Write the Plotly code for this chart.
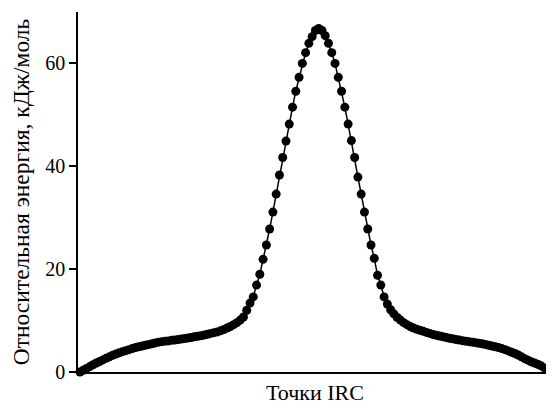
import plotly.graph_objects as go

irc_point = list(range(145))

energy = [
    0.0, 0.35, 0.7, 1.05, 1.4, 1.75, 2.05, 2.35, 2.65, 2.95,
    3.25, 3.5, 3.75, 3.95, 4.15, 4.35, 4.55, 4.75, 4.9, 5.05,
    5.2, 5.35, 5.5, 5.65, 5.8, 5.9, 6.0, 6.05, 6.15, 6.2,
    6.3, 6.4, 6.5, 6.6, 6.7, 6.85, 6.95, 7.05, 7.2, 7.35,
    7.5, 7.65, 7.8, 8.0, 8.25, 8.55, 8.85, 9.2, 9.6, 10.1,
    10.7, 12.0, 13.4, 14.6, 16.9, 19.0, 21.9, 24.7, 27.8, 31.1,
    34.6, 38.3, 41.7, 44.9, 48.2, 51.5, 54.6, 57.3, 60.0, 62.1,
    63.9, 65.2, 66.4, 66.8, 66.4, 65.4, 63.9, 62.1, 60.0, 57.3,
    54.6, 51.5, 48.2, 45.0, 41.7, 37.9, 34.6, 31.1, 27.8, 24.7,
    22.1, 18.8, 16.9, 14.6, 13.2, 12.1, 11.3, 10.6, 10.1, 9.6,
    9.2, 8.85, 8.55, 8.3, 8.1, 7.9, 7.7, 7.5, 7.3, 7.15,
    7.0, 6.85, 6.7, 6.55, 6.45, 6.3, 6.2, 6.1, 6.0, 5.9,
    5.8, 5.7, 5.6, 5.5, 5.35, 5.2, 5.05, 4.9, 4.75, 4.55,
    4.35, 4.1, 3.85, 3.6, 3.3, 2.95, 2.6, 2.3, 2.0, 1.75,
    1.5, 1.2, 0.8, 0.45, 0.05,
]

y_ticks = [0, 20, 40, 60]
x_title = "Точки IRC"
y_title = "Относительная энергия, кДж/моль"

font_family = "Liberation Serif, Times New Roman, serif"

fig = go.Figure()
fig.add_trace(go.Scatter(
    x=irc_point,
    y=energy,
    mode="lines+markers",
    line=dict(color="black", width=1.5),
    marker=dict(color="black", size=9),
    cliponaxis=False,
    showlegend=False,
))

fig.update_layout(
    width=554,
    height=403,
    margin=dict(l=70, r=10, t=4, b=39),
    paper_bgcolor="white",
    plot_bgcolor="white",
    font=dict(family=font_family, size=20, color="black"),
    xaxis=dict(
        range=[-0.6, 144.35],
        automargin=False,
        showline=True,
        linecolor="black",
        linewidth=1.5,
        showgrid=False,
        zeroline=False,
        showticklabels=False,
        ticks="",
        title=dict(text=x_title, font=dict(size=22), standoff=12),
    ),
    yaxis=dict(
        range=[0, 70],
        automargin=False,
        tickvals=y_ticks,
        showline=True,
        linecolor="black",
        linewidth=1.5,
        showgrid=False,
        zeroline=False,
        ticks="outside",
        ticklen=7,
        tickwidth=1.5,
        tickcolor="black",
        tickfont=dict(size=20),
        title=dict(text=y_title, font=dict(size=23.5), standoff=10),
    ),
)

fig.write_html("out.html")
